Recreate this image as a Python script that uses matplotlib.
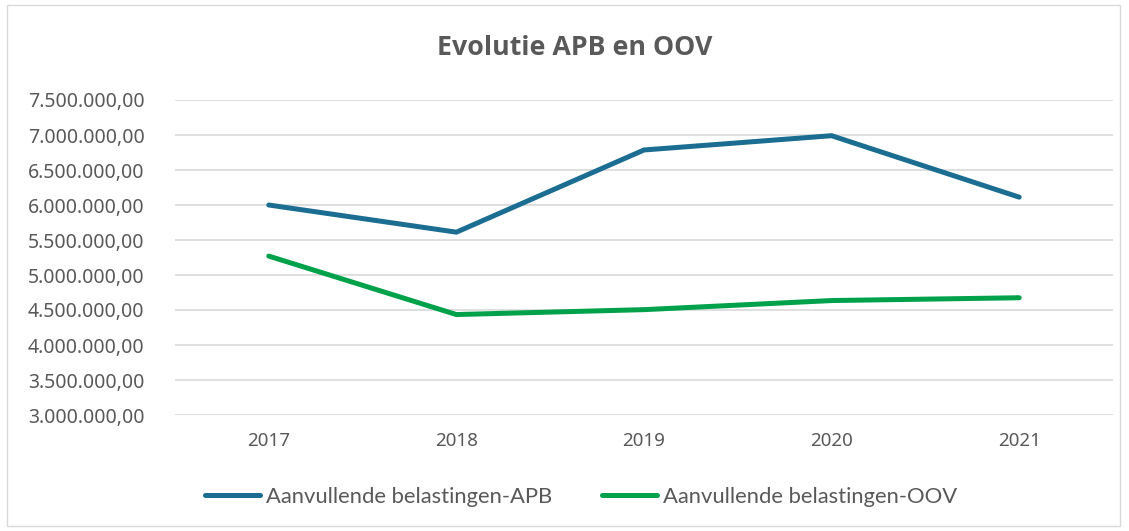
import matplotlib
matplotlib.use("Agg")
import matplotlib.pyplot as plt
from matplotlib.patches import Rectangle
from matplotlib.ticker import FuncFormatter
from matplotlib.font_manager import FontProperties

years = ["2017", "2018", "2019", "2020", "2021"]
apb = [6000000, 5612000, 6786000, 6990000, 6112000]
oov = [5270000, 4435000, 4505000, 4635000, 4675000]
series_names = ["Aanvullende belastingen-APB", "Aanvullende belastingen-OOV"]
y_ticks = [3000000 + 500000 * i for i in range(10)]

ytick_fp = FontProperties(family="Noto Sans", weight="normal", size=14)
xtick_fp = FontProperties(family="Noto Sans", weight="normal", size=13.5)

fig = plt.figure(figsize=(11.29, 5.31), dpi=100)
fig.patch.set_facecolor("white")
fig.add_artist(Rectangle((7/1129, 5/531), 1113/1129, 521/531, transform=fig.transFigure,
                         fill=False, edgecolor="#D9D9D9", linewidth=1.0))

ax = fig.add_axes([175/1129, 1-415/531, (1113-175)/1129, 315/531])
x = list(range(len(years)))
ax.plot(x, apb, color="#1B6E91", linewidth=3.6, solid_capstyle="round", solid_joinstyle="miter",
        label=series_names[0], zorder=3)
ax.plot(x, oov, color="#00A14B", linewidth=3.6, solid_capstyle="round", solid_joinstyle="miter",
        label=series_names[1], zorder=3)

ax.set_xlim(-0.5, len(years) - 0.5)
ax.set_ylim(3000000, 7500000)
ax.set_yticks(y_ticks)
def fmt(v, pos):
    s = f"{int(round(v)):,}".replace(",", ".")
    return s + ",00"
ax.yaxis.set_major_formatter(FuncFormatter(fmt))
ax.set_xticks(x)
ax.set_xticklabels(years)
ax.grid(axis="y", color="#D9D9D9", linewidth=1.2, zorder=0)
for s in ax.spines.values():
    s.set_visible(False)
ax.tick_params(axis="both", length=0, labelcolor="#595959")
for lbl in ax.get_yticklabels():
    lbl.set_fontproperties(ytick_fp)
for lbl in ax.get_xticklabels():
    lbl.set_fontproperties(xtick_fp)
ax.tick_params(axis="y", pad=22)
ax.tick_params(axis="x", pad=12)

fig.text(575/1129, 1-48/531, "Evolutie APB en OOV", ha="center", va="center",
         fontproperties=FontProperties(family="Open Sans", weight="bold", stretch="normal", size=19.3),
         color="#595959")

leg = fig.legend(loc="center", bbox_to_anchor=(581/1129, 1-497/531), ncol=2, frameon=False,
                 handlelength=2.5, handletextpad=0.25, columnspacing=2.3,
                 prop=FontProperties(family="Lato", weight="normal", size=15.8))
for t in leg.get_texts():
    t.set_color("#595959")

fig.savefig("out.png", dpi=100, facecolor="white")
